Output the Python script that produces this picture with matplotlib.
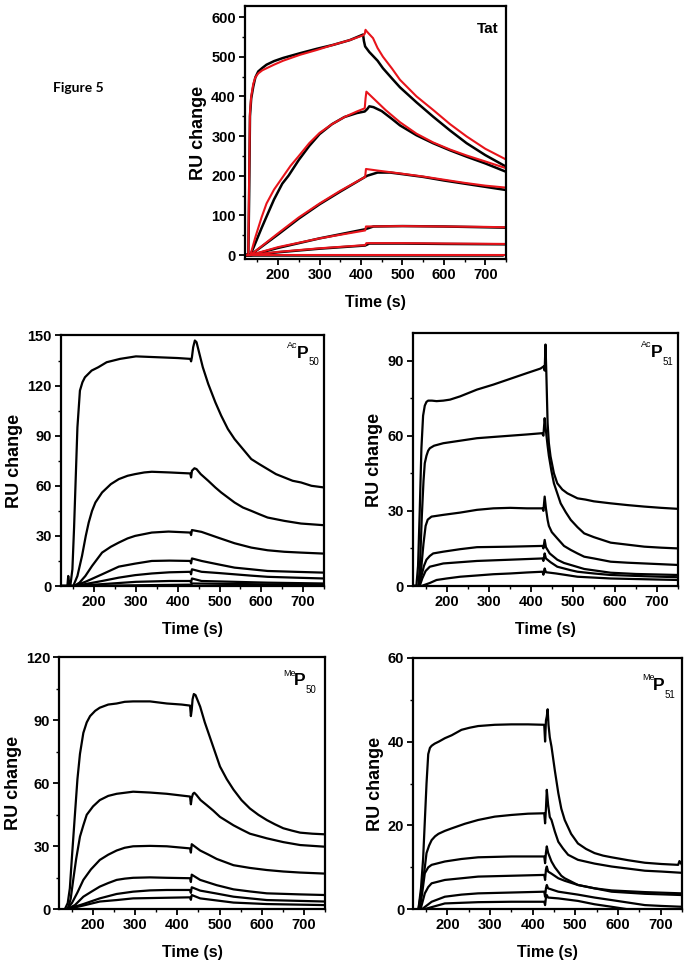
import matplotlib
matplotlib.use("Agg")
import matplotlib.pyplot as plt
from matplotlib.ticker import MultipleLocator

plt.rcParams['font.family'] = ['Liberation Sans', 'DejaVu Sans']
plt.rcParams['font.weight'] = 'bold'

# ---------------- data ----------------
# Tat panel: black = measured, red = fit
TAT_BLACK_T = [
    [120, 128, 130, 132, 135, 140, 145, 152, 162, 172, 190, 212, 253, 293, 333, 373, 405, 407, 410, 420, 440, 453, 475, 494, 534, 574, 615, 655, 700, 750],
    [120, 133, 145, 160, 172, 190, 210, 225, 250, 275, 300, 330, 360, 390, 409, 415, 420, 430, 450, 475, 494, 534, 574, 615, 655, 700, 750],
    [120, 133, 200, 250, 300, 350, 410, 415, 440, 470, 500, 550, 600, 650, 700, 750],
    [120, 135, 200, 300, 410, 430, 500, 600, 700, 750],
    [120, 135, 200, 300, 410, 420, 500, 600, 750],
    [120, 740],
]
TAT_BLACK_V = [
    [0, 0, 150, 350, 395, 425, 448, 463, 472, 480, 489, 497, 509, 520, 530, 542, 556, 540, 526, 512, 490, 471, 445, 423, 385, 349, 314, 282, 252, 223],
    [0, 0, 30, 68, 97, 140, 180, 200, 240, 275, 305, 330, 348, 358, 362, 368, 375, 373, 363, 343, 327, 302, 282, 264, 248, 231, 210],
    [0, 0, 52, 92, 128, 160, 197, 200, 208, 208, 204, 197, 188, 180, 172, 164],
    [0, 0, 18, 42, 65, 72, 73, 72, 70, 69],
    [0, 0, 7, 16, 24, 29, 29, 28, 27],
    [0, 0],
]
TAT_RED_T = [
    [120, 128, 130, 132, 135, 140, 145, 152, 162, 172, 190, 212, 253, 293, 333, 373, 405, 409, 411, 413, 420, 429, 440, 453, 475, 494, 534, 574, 615, 655, 700, 750],
    [120, 133, 145, 160, 172, 190, 210, 230, 250, 275, 300, 330, 360, 390, 409, 411, 413, 420, 440, 460, 494, 534, 574, 615, 655, 700, 750],
    [120, 133, 200, 250, 300, 350, 410, 412, 440, 500, 550, 600, 650, 700, 750],
    [120, 133, 200, 300, 410, 412, 500, 600, 700, 750],
    [120, 133, 200, 300, 410, 413, 500, 600, 750],
    [120, 750],
]
TAT_RED_V = [
    [0, 0, 200, 360, 400, 432, 448, 458, 466, 471, 480, 490, 505, 517, 530, 542, 554, 558, 568, 565, 557, 547, 522, 500, 470, 442, 400, 366, 330, 299, 268, 241],
    [0, 0, 45, 95, 130, 165, 195, 225, 250, 282, 308, 330, 348, 362, 370, 395, 412, 405, 385, 365, 335, 306, 284, 266, 251, 236, 219],
    [0, 0, 55, 95, 130, 162, 197, 217, 213, 205, 198, 190, 182, 175, 170],
    [0, 0, 20, 42, 62, 72, 73, 72, 71, 70],
    [0, 0, 8, 17, 25, 30, 30, 29, 28],
    [0, 0],
]

ACP50_T = [
    [120, 136, 138, 140, 143, 148, 152, 156, 160, 166, 172, 178, 186, 194, 210, 230, 262, 300, 350, 400, 430, 432, 434, 437, 441, 445, 450, 460, 473, 490, 504, 520, 536, 556, 576, 595, 615, 635, 655, 675, 695, 720, 750],
    [120, 150, 160, 171, 180, 187, 195, 203, 219, 240, 259, 280, 298, 320, 338, 380, 430, 432, 434, 440, 445, 455, 473, 490, 504, 520, 536, 556, 576, 595, 615, 655, 695, 750],
    [120, 152, 165, 179, 195, 219, 240, 259, 280, 298, 338, 378, 430, 432, 434, 457, 496, 536, 576, 615, 655, 695, 750],
    [120, 152, 179, 219, 259, 298, 338, 380, 430, 432, 434, 457, 496, 536, 576, 615, 680, 750],
    [120, 152, 180, 219, 259, 298, 338, 380, 430, 432, 434, 457, 496, 536, 576, 615, 680, 750],
    [120, 152, 200, 260, 300, 380, 430, 432, 434, 457, 536, 615, 750],
    [120, 150, 430, 432, 434, 750],
]
ACP50_V = [
    [0, 0, 6, 2, 0, 10, 35, 65, 95, 117, 122, 125, 127, 129, 131, 134, 136, 137.5, 137, 136.5, 136, 134.5, 137, 143, 147, 146, 141, 131, 121, 110, 102, 94, 88, 82, 76, 73, 70, 67, 65, 63, 62, 60, 59],
    [0, 0, 6, 18, 30, 38, 45, 50, 56, 61, 64, 66, 67, 68, 68.4, 68, 67.4, 65, 69, 70.5, 70, 67, 63, 59, 56, 53, 50, 47, 45, 43, 41, 39, 37.4, 36.4],
    [0, 0, 2, 6, 12, 20, 23.5, 26, 28.5, 30, 32, 32.6, 32, 30.5, 33.5, 32.4, 29, 25.6, 23, 21.4, 20.5, 20, 19.4],
    [0, 0, 2.5, 7, 11.6, 13.4, 15, 15.2, 15, 13.5, 16.5, 15, 13, 11, 10, 9, 8.5, 8],
    [0, 0, 1.2, 3, 5, 6.5, 7.5, 8.2, 8.5, 7, 10, 8.5, 7.8, 7, 6.2, 5.5, 5, 4.5],
    [0, 0, 0.8, 1.8, 2.5, 3, 3, 2, 4.5, 3, 2.5, 2, 1.5],
    [0, 0, 0.8, 0, 1.5, 0.6],
]

ACP51_T = [
    [120, 128, 132, 136, 140, 144, 148, 152, 156, 165, 176, 192, 208, 232, 272, 311, 351, 391, 423, 431, 433, 435, 437, 440, 443, 447, 455, 463, 475, 487, 499, 511, 530, 550, 590, 630, 670, 710, 750],
    [120, 133, 137, 141, 145, 148, 152, 156, 160, 170, 192, 232, 272, 311, 351, 391, 427, 430, 433, 436, 440, 443, 449, 455, 463, 471, 483, 495, 511, 527, 550, 590, 630, 670, 710, 750],
    [120, 135, 140, 145, 150, 155, 164, 192, 232, 272, 311, 351, 391, 428, 430, 433, 436, 440, 443, 450, 463, 479, 495, 511, 527, 550, 590, 630, 670, 710, 750],
    [120, 135, 140, 146, 152, 160, 168, 192, 232, 272, 351, 428, 430, 433, 436, 445, 463, 479, 495, 527, 590, 650, 750],
    [120, 136, 142, 150, 160, 192, 232, 272, 351, 428, 430, 433, 436, 447, 463, 495, 511, 550, 590, 670, 750],
    [120, 140, 160, 176, 200, 232, 272, 311, 351, 391, 428, 430, 433, 436, 460, 511, 590, 670, 750],
]
ACP51_V = [
    [0, 0, 8, 30, 55, 68, 72, 73.5, 74, 74, 73.8, 74, 74.4, 75.7, 78.4, 80.4, 82.7, 85, 86.8, 87.7, 86, 96.4, 85, 65, 57, 51.7, 45, 41, 38.5, 37, 36, 35, 34.5, 33.8, 33, 32.3, 31.7, 31.2, 30.8],
    [0, 0, 10, 28, 42, 49, 52, 54, 55, 56, 57, 58, 59, 59.5, 60, 60.5, 61, 60, 67, 62, 56, 52, 46, 41, 37, 33, 29.5, 26.4, 23.5, 21, 19.5, 17.3, 16.5, 15.7, 15.3, 15],
    [0, 0, 8, 17, 24, 26.5, 27.7, 28.4, 29.3, 30.4, 31, 31.2, 31, 31, 30, 35.7, 31, 26.4, 24, 21.5, 19, 16, 14.4, 13, 11.7, 11, 9.7, 9.3, 9, 8.7, 8.4],
    [0, 0, 4, 8, 10.5, 12, 13, 13.7, 14.7, 15.5, 15.7, 16, 15, 18.4, 15.5, 13, 10.5, 9.2, 8.4, 6.8, 5.3, 4.8, 4.4],
    [0, 0, 3, 6, 7.7, 9, 9.5, 10, 10.5, 11, 10, 13, 11, 9.5, 7.7, 6.3, 5.7, 5, 4.4, 3.9, 3.5],
    [0, 0, 1.2, 2.4, 3, 3.7, 4.2, 4.7, 5, 5.4, 5.7, 4.5, 7, 5.5, 5, 3.7, 3, 2.7, 2.4],
]

MEP50_T = [
    [120, 133, 140, 145, 150, 157, 163, 169, 177, 185, 193, 205, 216, 236, 256, 275, 295, 335, 375, 410, 430, 432, 434, 436, 439, 443, 447, 454, 465, 477, 489, 501, 517, 533, 552, 572, 592, 612, 631, 651, 671, 691, 720, 750],
    [120, 140, 147, 153, 160, 169, 177, 185, 200, 216, 236, 256, 295, 335, 375, 430, 432, 434, 437, 440, 445, 455, 469, 485, 501, 517, 533, 552, 572, 612, 651, 691, 750],
    [120, 137, 150, 163, 177, 195, 216, 236, 256, 275, 295, 335, 375, 430, 432, 434, 454, 474, 493, 513, 533, 572, 612, 651, 691, 750],
    [120, 137, 157, 177, 197, 216, 236, 256, 275, 295, 335, 375, 430, 432, 434, 454, 493, 533, 572, 612, 691, 750],
    [120, 137, 177, 216, 256, 295, 335, 375, 430, 432, 434, 454, 493, 533, 572, 612, 691, 750],
    [120, 137, 177, 216, 256, 295, 375, 430, 432, 434, 454, 533, 612, 750],
]
MEP50_V = [
    [0, 0, 3, 10, 25, 45, 62, 74, 84, 89, 92, 94.5, 96, 97.5, 98, 98.8, 99, 99, 98, 97.5, 97, 92, 95, 100, 102.5, 102, 100, 96.5, 89, 82, 75, 68, 62, 57, 52, 48, 45, 42.5, 40.5, 38.6, 37.5, 36.5, 36, 35.7],
    [0, 0, 5, 14, 24, 34.6, 40, 45, 49, 52, 54, 55, 56, 55.6, 55, 53.7, 50, 53, 55, 55.5, 54.5, 52, 49.7, 47, 44, 42, 40, 38, 36, 33.8, 32, 30.6, 29.8],
    [0, 0, 3, 8, 14, 19, 23.5, 26, 28, 29.3, 30, 30.2, 30, 29, 27, 31, 28, 26, 24, 22.5, 21, 19.7, 18.7, 18, 17.5, 17],
    [0, 0, 2, 6, 8.5, 10.8, 12.5, 14, 14.6, 15, 15.2, 15, 14.8, 13, 16.5, 14, 11.5, 9.5, 8.5, 7.6, 7.1, 6.8],
    [0, 0, 2.5, 5.2, 7.3, 8.4, 9, 9.2, 9.2, 7.8, 10.5, 8.9, 7.5, 6, 5.2, 4.4, 4, 3.7],
    [0, 0, 1.8, 3.7, 4.4, 5.2, 5.5, 5.7, 4.5, 6.8, 5.2, 3.2, 2.5, 2],
]

MEP51_T = [
    [120, 132, 138, 143, 147, 151, 155, 159, 163, 170, 180, 194, 210, 233, 252, 272, 311, 350, 389, 427, 429, 431, 433, 435, 437, 440, 444, 452, 460, 467, 475, 490, 506, 525, 545, 565, 585, 624, 663, 702, 741, 744, 750],
    [120, 132, 140, 147, 151, 157, 163, 171, 179, 194, 210, 241, 272, 311, 350, 389, 427, 429, 431, 433, 436, 440, 444, 452, 460, 471, 483, 506, 545, 585, 624, 663, 702, 750],
    [120, 135, 141, 147, 155, 163, 194, 233, 272, 350, 427, 429, 431, 433, 436, 444, 452, 467, 475, 506, 545, 585, 663, 750],
    [120, 137, 147, 155, 163, 194, 233, 272, 350, 427, 429, 431, 433, 436, 444, 460, 475, 506, 545, 585, 663, 750],
    [120, 140, 163, 194, 233, 272, 350, 427, 429, 431, 433, 436, 460, 506, 545, 585, 624, 663, 702, 750],
    [120, 145, 194, 272, 350, 427, 429, 431, 433, 436, 460, 506, 545, 585, 623, 700, 750],
]
MEP51_V = [
    [0, 0, 5, 12, 21, 30, 37, 38.5, 39, 39.5, 40, 40.8, 41.5, 42.8, 43.3, 43.7, 44, 44.1, 44.1, 44, 40, 45, 46, 47.7, 44, 41, 38.8, 33, 27.7, 24, 21.3, 18, 15.7, 14.4, 13.4, 12.8, 12.4, 11.7, 11.1, 10.8, 10.6, 11.5, 10.6],
    [0, 0, 5, 10, 13.4, 15.2, 16.5, 17.4, 18, 18.7, 19.3, 20.4, 21.3, 22.1, 22.5, 22.8, 22.9, 20.5, 24, 28.5, 25, 22, 21.3, 18.5, 16.1, 14.5, 13, 11.8, 10.9, 10.2, 9.7, 9.2, 9, 8.7],
    [0, 0, 4, 8.6, 10, 10.6, 11.4, 12, 12.4, 12.6, 12.6, 11, 13.5, 15, 13.5, 11.4, 10, 8, 7.4, 5.8, 5, 4.5, 4.1, 3.8],
    [0, 0, 3.8, 5.3, 6.2, 7, 7.4, 7.8, 8, 8.2, 7, 9.5, 10.2, 9, 8.5, 7.4, 6.8, 5.8, 5, 4.2, 3.7, 3.4],
    [0, 0, 1.8, 3, 3.5, 3.8, 4, 4.2, 3, 5, 5.8, 5, 4.2, 3.5, 2.8, 2.2, 1.6, 1, 0.8, 0.6],
    [0, 0, 1.4, 1.7, 1.8, 1.8, 1, 2.8, 3.4, 2.8, 2.6, 2, 1.2, 0.6, 0, -0.2, -0.3],
]

X_TICKS = [200, 300, 400, 500, 600, 700]

# ---------------- figure ----------------
fig = plt.figure(figsize=(6.9, 9.72), dpi=100)
W, H = 690.0, 972.0


def make_axes(left, right, top, bottom):
    return fig.add_axes([left / W, 1 - bottom / H, (right - left) / W, (bottom - top) / H])


def style(ax, ylim, ymajor, yminor):
    ax.set_xlim(120, 750)
    ax.set_ylim(*ylim)
    ax.set_xticks(X_TICKS)
    ax.xaxis.set_minor_locator(MultipleLocator(50))
    ax.yaxis.set_major_locator(MultipleLocator(ymajor))
    ax.yaxis.set_minor_locator(MultipleLocator(yminor))
    for s in ax.spines.values():
        s.set_linewidth(1.6)
    ax.tick_params(which='major', direction='out', length=4, width=1.3,
                   labelsize=10.5, pad=2.5)
    ax.tick_params(which='minor', direction='out', length=2.2, width=1.0)
    for lab in ax.get_xticklabels() + ax.get_yticklabels():
        lab.set_fontweight('bold')
    ax.set_xlabel('Time (s)', fontsize=11.5, fontweight='bold', labelpad=9)
    ax.set_ylabel('RU change', fontsize=13, fontweight='bold', labelpad=3)


def draw(ax, tlist, vlist, color='black', lw=1.6):
    for t, v in zip(tlist, vlist):
        ax.plot(t, v, color=color, lw=lw, solid_joinstyle='round')


def label(ax, sup, sub, dx, dy):
    ax.annotate('P', xy=(1, 1), xycoords='axes fraction', xytext=(dx, dy),
                textcoords='offset points', ha='center', va='center',
                fontsize=12.5, fontweight='bold')
    ax.annotate(sup, xy=(1, 1), xycoords='axes fraction', xytext=(dx - 7.2, dy + 5.5),
                textcoords='offset points', ha='center', va='center',
                fontsize=6.5, fontweight='normal')
    ax.annotate(sub, xy=(1, 1), xycoords='axes fraction', xytext=(dx + 8.0, dy - 6.8),
                textcoords='offset points', ha='center', va='center',
                fontsize=7, fontweight='normal')


# Tat panel
ax0 = make_axes(245, 506, 6, 259)
draw(ax0, TAT_BLACK_T, TAT_BLACK_V, 'black', 1.8)
draw(ax0, TAT_RED_T, TAT_RED_V, '#e8141b', 1.5)
style(ax0, (-10, 628), 100, 50)
ax0.annotate('Tat', xy=(1, 1), xycoords='axes fraction', xytext=(-13.5, -16.5),
             textcoords='offset points', ha='center', va='center',
             fontsize=11, fontweight='bold')

# AcP50
ax1 = make_axes(60.7, 324, 335.5, 586)
draw(ax1, ACP50_T, ACP50_V)
style(ax1, (0, 150), 30, 15)
label(ax1, 'Ac', '50', -15.5, -12.6)

# AcP51
ax2 = make_axes(413, 678, 333, 586)
draw(ax2, ACP51_T, ACP51_V)
style(ax2, (0, 101), 30, 15)
label(ax2, 'Ac', '51', -15.5, -14)

# MeP50
ax3 = make_axes(59.3, 325, 657.3, 909.3)
draw(ax3, MEP50_T, MEP50_V)
style(ax3, (0, 120), 30, 15)
label(ax3, 'Me', '50', -18, -17)

# MeP51
ax4 = make_axes(413.3, 682, 657.7, 909.3)
draw(ax4, MEP51_T, MEP51_V)
style(ax4, (0, 60), 20, 10)
label(ax4, 'Me', '51', -17, -20)

fig.text(53 / W, 1 - 88 / H, 'Figure 5', family=['Lato', 'DejaVu Sans'],
         fontsize=10, fontweight='bold', ha='left', va='center')

fig.savefig('out.png', dpi=100)
